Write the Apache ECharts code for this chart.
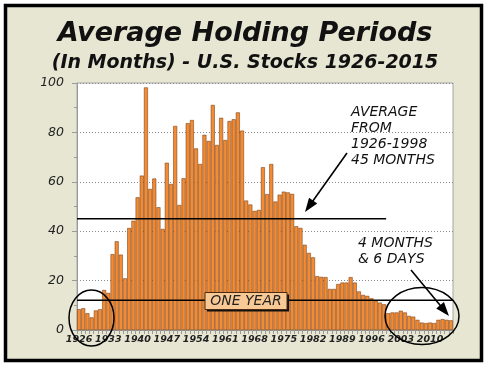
<!DOCTYPE html>
<html><head><meta charset="utf-8">
<script src="https://cdn.jsdelivr.net/npm/echarts/dist/echarts.min.js"></script>
<style>html,body{margin:0;padding:0;background:#fff}#c{width:490px;height:369px}</style>
</head><body><div id="c"></div>
<script>
// ---- data ----
const years = [];
for (let y = 1926; y <= 2015; y++) years.push(String(y));
const holdingMonths = [
  8.4, 8.8, 6.8, 5.1, 7.9, 8.4, 16.2, 15.0, 30.7, 35.9,
  30.5, 20.9, 41.3, 44.2, 53.7, 62.5, 98.2, 57.1, 61.3, 49.7,
  40.9, 67.7, 59.1, 82.6, 50.6, 61.4, 83.7, 85.0, 73.5, 67.2,
  79.0, 76.5, 91.1, 74.9, 85.9, 76.9, 84.6, 85.3, 88.1, 80.7,
  52.4, 50.8, 48.2, 48.6, 65.9, 55.0, 67.2, 52.0, 54.8, 56.0,
  55.7, 55.1, 42.0, 41.3, 34.5, 31.2, 29.4, 21.8, 21.5, 21.4,
  16.6, 16.6, 18.6, 19.2, 19.2, 21.4, 19.2, 15.6, 14.2, 13.8,
  12.8, 11.9, 11.1, 10.4, 6.8, 7.1, 7.1, 7.8, 7.1, 5.7,
  5.4, 4.1, 3.0, 2.8, 3.0, 2.8, 4.1, 4.4, 4.1, 3.9
];
const yTickValues = [0, 20, 40, 60, 80, 100];
const averageMonths = 45;          // 1926-1998 average
const averageSpan = [0, 74];       // category positions (left edges) covered by the average line
const oneYearMonths = 12;
const oneYearSpan = [0, 90];

const titleText = 'Average Holding Periods';
const subtitleText = '(In Months) - U.S. Stocks 1926-2015';
const avgNote = 'AVERAGE\nFROM\n1926-1998\n45 MONTHS';
const nowNote = '4 MONTHS\n& 6 DAYS';
const oneYearLabel = 'ONE YEAR';

// ---- helpers ----
const FONT = 'DejaVu Sans';
function arrow(x1, y1, x2, y2, headLen, headHalf) {
  const dx = x2 - x1, dy = y2 - y1, L = Math.hypot(dx, dy);
  const ux = dx / L, uy = dy / L, nx = -uy, ny = ux;
  const bx = x2 - ux * headLen, by = y2 - uy * headLen;
  return [
    { type: 'line', z: 120, shape: { x1: x1, y1: y1, x2: bx + ux * 2, y2: by + uy * 2 },
      style: { stroke: '#000', lineWidth: 1.6 } },
    { type: 'polygon', z: 120,
      shape: { points: [[x2, y2], [bx + nx * headHalf, by + ny * headHalf], [bx - nx * headHalf, by - ny * headHalf]] },
      style: { fill: '#000' } }
  ];
}

const chart = echarts.init(document.getElementById('c'), null, { renderer: 'canvas' });
const option = {
  animation: false,
  backgroundColor: '#ffffff',
  title: [
    { text: titleText, left: 'center', top: 20, padding: 0,
      textStyle: { fontFamily: FONT, fontSize: 27, fontWeight: 'bold', fontStyle: 'italic', color: '#111' } },
    { text: subtitleText, left: 'center', top: 54, padding: 0,
      textStyle: { fontFamily: FONT, fontSize: 19, fontWeight: 'bold', fontStyle: 'italic', color: '#111' } }
  ],
  grid: { left: 77, right: 37, top: 83, bottom: 39, show: true,
          backgroundColor: '#ffffff', borderColor: '#a6a6a6', borderWidth: 1 },
  xAxis: [
    { type: 'category', data: years, boundaryGap: true,
      axisLine: { lineStyle: { color: '#9a9a9a' } },
      axisTick: { show: true, interval: 0, length: 4, lineStyle: { color: '#9a9a9a' } },
      axisLabel: { interval: 6, margin: 5, fontFamily: FONT, fontSize: 9.5, fontStyle: 'italic',
                   fontWeight: 'bold', color: '#222' },
      splitLine: { show: false } },
    { type: 'value', min: oneYearSpan[0], max: oneYearSpan[1], show: false }
  ],
  yAxis: {
    type: 'value', min: yTickValues[0], max: yTickValues[yTickValues.length - 1], interval: 20,
    axisLine: { show: true, lineStyle: { color: '#9a9a9a' } },
    axisTick: { show: true, length: 5, lineStyle: { color: '#9a9a9a' } },
    minorTick: { show: true, splitNumber: 2, length: 3, lineStyle: { color: '#9a9a9a' } },
    axisLabel: { margin: 13, fontFamily: FONT, fontSize: 12.5, fontStyle: 'italic', color: '#222' },
    splitLine: { show: true, lineStyle: { color: '#8a8a8a', type: [1, 2], width: 1 } }
  },
  series: [
    { type: 'bar', data: holdingMonths, barCategoryGap: '6%', z: 2,
      itemStyle: { color: '#f38b34', borderColor: '#6a3208', borderWidth: 0.5 } },
    { type: 'line', xAxisIndex: 1, yAxisIndex: 0, symbol: 'none', silent: true, z: 5,
      data: [[averageSpan[0], averageMonths], [averageSpan[1], averageMonths]],
      lineStyle: { color: '#000', width: 1.5 } },
    { type: 'line', xAxisIndex: 1, yAxisIndex: 0, symbol: 'none', silent: true, z: 5,
      data: [[oneYearSpan[0], oneYearMonths], [oneYearSpan[1], oneYearMonths]],
      lineStyle: { color: '#000', width: 1.5 } }
  ],
  graphic: [
    { type: 'rect', z: -100, shape: { x: 5.5, y: 5.5, width: 476, height: 355 },
      style: { fill: '#e6e6d3', stroke: '#000', lineWidth: 3.5 } },
    { type: 'ellipse', z: 110, shape: { cx: 91.5, cy: 318, rx: 22.5, ry: 28 },
      style: { fill: null, stroke: '#000', lineWidth: 1.5 } },
    { type: 'ellipse', z: 110, shape: { cx: 422, cy: 316, rx: 37, ry: 28.5 },
      style: { fill: null, stroke: '#000', lineWidth: 1.5 } },
    { type: 'rect', z: 111, shape: { x: 207, y: 294.5, width: 82, height: 17 }, style: { fill: '#111' } },
    { type: 'rect', z: 112, shape: { x: 205, y: 292.5, width: 82, height: 17 },
      style: { fill: '#f9c995', stroke: '#4a2a10', lineWidth: 1 } },
    { type: 'text', z: 113, x: 246, y: 301,
      style: { text: oneYearLabel, fontFamily: FONT, fontSize: 14, fontStyle: 'italic', fill: '#222',
               align: 'center', verticalAlign: 'middle' } },
    { type: 'text', z: 113, x: 351, y: 104.7,
      style: { text: avgNote, fontFamily: FONT, fontSize: 14, fontStyle: 'italic', fill: '#111',
               lineHeight: 16, align: 'left', verticalAlign: 'top' } },
    { type: 'text', z: 113, x: 358, y: 235,
      style: { text: nowNote, fontFamily: FONT, fontSize: 14, fontStyle: 'italic', fill: '#111',
               lineHeight: 16.5, align: 'left', verticalAlign: 'top' } }
  ].concat(arrow(347, 153, 305, 212, 14, 5)).concat(arrow(411, 270, 449, 316, 14, 5))
};
chart.setOption(option);
</script>
</body></html>
